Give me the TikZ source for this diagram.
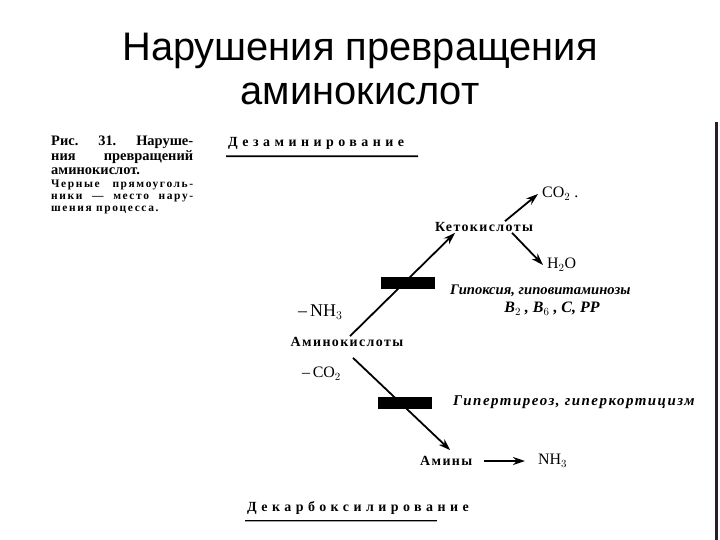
\documentclass[tikz,border=0pt]{standalone}
\usepackage{fontspec}
\setmainfont{Liberation Serif}
\newfontfamily\titlefont{Liberation Sans}
\usetikzlibrary{arrows.meta,positioning}
\definecolor{edgebar}{HTML}{2E1A28}
\tikzset{
	subst/.style={font=\bfseries\fontsize{14}{16}\selectfont\addfontfeature{LetterSpace=10},inner sep=1pt},
	formula/.style={font=\fontsize{16}{18}\selectfont,inner sep=1pt},
	cond/.style={font=\bfseries\itshape\fontsize{14.7}{17}\selectfont,inner sep=1pt},
	head/.style={font=\bfseries\fontsize{14}{16}\selectfont\addfontfeature{LetterSpace=32},inner sep=2pt},
	block/.style={fill=black,minimum width=54bp,minimum height=12bp,inner sep=0pt},
	react/.style={-{Stealth[length=12bp,width=8bp]},line width=1.8pt},
	capt/.style={text width=142bp,align=justify,inner sep=0pt,anchor=north west}
}
\begin{document}
\begin{tikzpicture}[x=1bp,y=-1bp]
	\useasboundingbox (0,0) rectangle (720,540);
	\node[font=\titlefont\fontsize{40}{45}\selectfont,align=center] (title) at (360,69) {Нарушения превращения\\аминокислот};
	\fill[edgebar] (715,122) rectangle (718,540);

	% caption
	\node[capt,font=\bfseries\fontsize{14.5}{14.5}\selectfont] (capta) at (51,136) {Рис.\hfill 31.\hfill Наруше-\linebreak ния\hfill превращений\linebreak аминокислот.};
	\node[capt,font=\bfseries\fontsize{11.5}{12}\selectfont\addfontfeature{LetterSpace=14}] (captb) at (51,180) {Черные\hfill прямоуголь-\linebreak ники\hfill ---\hfill место\hfill нару-\linebreak шения процесса.};

	% substances
	\node[subst] (amino) at (347,342) {Аминокислоты};
	\node[subst] (keto) at (484,227) {Кетокислоты};
	\node[formula,anchor=west] (co) at (541,194) {CO$_2$ .};
	\node[formula,anchor=west] (water) at (546,265) {H$_2$O};
	\node[subst,anchor=west] (amines) at (419,461) {Амины};
	\node[formula,anchor=west] (nh) at (537,461) {NH$_3$};
	\node[formula,anchor=west,font=\fontsize{18}{20}\selectfont] (lossnh) at (297,312) {--\,NH$_3$};
	\node[formula,anchor=west] (lossco) at (301,374) {--\,CO$_2$};

	% blocked steps
	\node[block] (blocka) at (408,282.5) {};
	\node[block] (blockb) at (404.5,402.5) {};
	\node[cond,anchor=west] (conda) at (449,291) {Гипоксия, гиповитаминозы};
	\node[cond,font=\bfseries\itshape\fontsize{16}{18}\selectfont] (vit) at (552,309) {B$_2$ , B$_6$ , C, PP};
	\node[cond,anchor=west,font=\bfseries\itshape\fontsize{15}{17}\selectfont\addfontfeature{LetterSpace=10}] (condb) at (452,402) {Гипертиреоз, гиперкортицизм};

	% headings
	\node[head,anchor=west] (desam) at (226,143) {Дезаминирование};
	\node[head,anchor=west] (decarb) at (245,508) {Декарбоксилирование};
	\draw[line width=1.6pt] ([yshift=-5bp]desam.south west) -- ([shift={(12,5)}]desam.south east);
	\draw[line width=1.2pt] ([yshift=-4bp]decarb.south west) -- ([shift={(-34,4)}]decarb.south east);

	\draw[react] ([xshift=3bp]amino.north) -- ([xshift=-29bp]keto.south);
	\draw[react] ([xshift=21bp]keto.north) -- ([xshift=-3bp]co.west);
	\draw[react] ([xshift=28bp]keto.south) -- ([xshift=-3bp]water.west);
	\draw[react] ([shift={(6,10)}]amino.south) -- ([shift={(4,-5)}]amines.north);
	\draw[react,shorten <=10bp,shorten >=12bp] (amines.east) -- (nh.west);
\end{tikzpicture}
\end{document}
